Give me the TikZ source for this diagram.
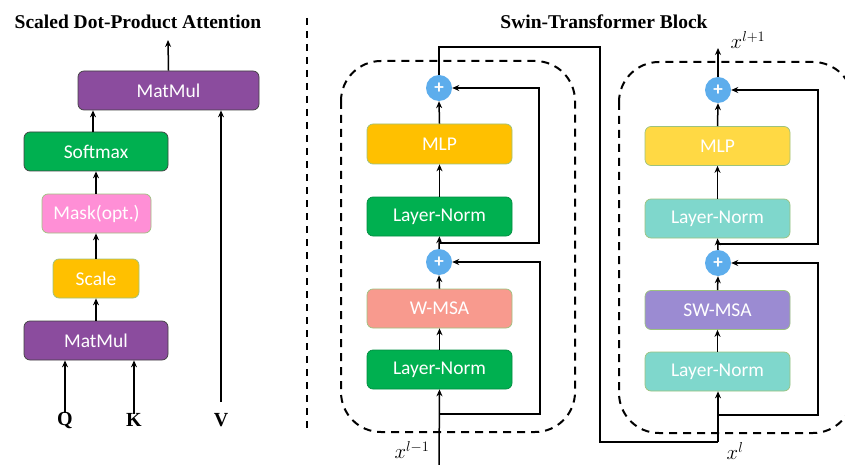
\documentclass[tikz,border=0pt]{standalone}
\usepackage{fontspec}
\setmainfont{Liberation Serif}
\newfontfamily\boxfont{Carlito}
\usetikzlibrary{arrows.meta,calc}
\definecolor{cpurple}{HTML}{8B4C9E}
\definecolor{cgreen}{HTML}{00B050}
\definecolor{cpink}{HTML}{FF8FD6}
\definecolor{cgold}{HTML}{FFC000}
\definecolor{csalmon}{HTML}{F89A8E}
\definecolor{cyellow}{HTML}{FFD944}
\definecolor{cteal}{HTML}{7FD7CC}
\definecolor{clav}{HTML}{9B8BD2}
\definecolor{cblue}{HTML}{5DADEC}
\definecolor{bdark}{HTML}{404040}
\definecolor{blight}{HTML}{9CC27E}
\begin{document}
\begin{tikzpicture}[x=1pt,y=-1pt,
  blk/.style={rectangle,rounded corners=6pt,minimum height=39pt,inner sep=0pt,
    text=white,font=\boxfont\fontsize{19.5}{22}\selectfont,line width=0.7pt},
  darkb/.style={blk,draw=bdark},
  lightb/.style={blk,draw=blight},
  plus/.style={circle,fill=cblue,minimum size=26pt,inner sep=0pt,text=white,
    font=\boxfont\bfseries\fontsize{19}{19}\selectfont},
  arr/.style={line width=1.5pt,-{Stealth[length=7pt,width=6pt]}},
  ln/.style={line width=1.5pt},
  lbl/.style={font=\bfseries\fontsize{20}{22}\selectfont,inner sep=1pt},
  mlbl/.style={font=\fontsize{20}{22}\selectfont,inner sep=1pt},
  dbox/.style={draw,line width=2pt,dash pattern=on 8pt off 6pt,rounded corners=40pt}
]
\useasboundingbox (0,0) rectangle (845,465);
\clip (0,0) rectangle (845,465);

% ---------- titles ----------
\node[font=\bfseries\fontsize{19.5}{22}\selectfont] (t1) at (138,22) {Scaled Dot-Product Attention};
\node[font=\bfseries\fontsize{19.5}{22}\selectfont] (t2) at (604,22) {Swin-Transformer Block};

% divider
\coordinate (d1) at (307,18);
\coordinate (d2) at (307,433);
\draw[line width=1.5pt,dash pattern=on 7pt off 6pt] (d1) -- (d2);

% ---------- left: scaled dot-product attention ----------
\node[darkb,fill=cpurple,minimum width=181pt] (mmtop) at (168.5,90.5) {MatMul};
\node[darkb,fill=cgreen,minimum width=144pt] (soft) at (96,151.5) {Softmax};
\node[lightb,fill=cpink,minimum width=109pt] (mask) at (96.5,213.5) {Mask(opt.)};
\node[lightb,fill=cgold,minimum width=86pt] (scale) at (96,278.5) {Scale};
\node[darkb,fill=cpurple,minimum width=144pt] (mmbot) at (96,340.5) {MatMul};

\node[lbl] (Q) at (65,420) {Q};
\node[lbl] (K) at (134,420) {K};
\node[lbl] (V) at (221,420) {V};
\coordinate (out) at (168,40);
\coordinate (vs) at (221,402);

\draw[arr] (mmtop.north) -- (out);
\draw[arr] ([xshift=-3pt]soft.north) -- ([xshift=-3pt]soft.north |- mmtop.south);
\draw[arr] (mask.north -| soft.north) -- (soft.south);
\draw[arr] (scale.north) -- (scale.north |- mask.south);
\draw[arr] (mmbot.north) -- (scale.south);
\draw[arr] ([yshift=-2pt]Q.north) -- (Q.north |- mmbot.south);
\draw[arr] ([yshift=-2pt]K.north) -- (K.north |- mmbot.south);
\draw[arr] (vs) -- (vs |- mmtop.south);

% ---------- right: swin transformer block ----------
\draw[dbox] (341,61) rectangle (575,432);
\draw[dbox] (619,62) rectangle (853,433);

% first block (W-MSA)
\node[lightb,fill=cgreen,draw=cgreen!80!black,minimum width=145pt] (ln1) at (439.5,369.5) {Layer-Norm};
\node[lightb,fill=csalmon,minimum width=145pt] (wmsa) at (439.5,308.5) {W-MSA};
\node[plus] (pa) at (439,262) {+};
\node[lightb,fill=cgreen,draw=cgreen!80!black,minimum width=145pt] (ln2) at (439.5,216.5) {Layer-Norm};
\node[lightb,fill=cgold,minimum width=145pt,minimum height=40pt] (mlp1) at (439.5,144) {MLP};
\node[plus] (pb) at (439,88) {+};

\coordinate (in1) at (439,465);
\node[mlbl] (xlm1) at (412,450) {$x^{l-1}$};
\coordinate (s1) at (439,414);
\coordinate (r1) at (540,414);
\coordinate (s2) at (439,243);
\coordinate (r2) at (539,243);

\draw[arr] (in1) -- (ln1.south);
\draw[arr] (ln1.north) -- (wmsa.south);
\draw[arr] (wmsa.north) -- (pa.south);
\draw[arr] (pa.north) -- (ln2.south);
\draw[arr] (ln2.north) -- (mlp1.south);
\draw[arr] (mlp1.north) -- (pb.south);
\draw[arr] (s1) -- (r1) -- (r1 |- pa.east) -- (pa.east);
\draw[arr] (s2) -- (r2) -- (r2 |- pb.east) -- (pb.east);

% connection to second block
\coordinate (c1) at (439,47);
\coordinate (c2) at (600,47);
\coordinate (c3) at (600,442);
\coordinate (c4) at (718,442);

% second block (SW-MSA)
\node[lightb,fill=cteal,minimum width=145pt] (ln3) at (717.5,371.5) {Layer-Norm};
\node[lightb,fill=clav,minimum width=145pt] (swmsa) at (717.5,310) {SW-MSA};
\node[plus] (pc) at (718,263) {+};
\node[lightb,fill=cteal,minimum width=145pt] (ln4) at (717.5,218.5) {Layer-Norm};
\node[lightb,fill=cyellow,minimum width=145pt] (mlp2) at (717.5,146) {MLP};
\node[plus] (pd) at (718,90) {+};

\draw[ln] (pb.north) -- (c1) -- (c2) -- (c3) -- (c4);
\draw[arr] (c4) -- (c4 |- ln3.south);
\node[mlbl] (xl) at (735,451) {$x^{l}$};

\coordinate (s3) at (718,415);
\coordinate (r3) at (818,415);
\coordinate (s4) at (718,244);
\coordinate (r4) at (818,244);
\coordinate (out2) at (718,48);
\node[mlbl] (xlp1) at (748,40) {$x^{l+1}$};

\draw[arr] (ln3.north) -- (swmsa.south);
\draw[arr] (swmsa.north) -- (pc.south);
\draw[arr] (pc.north) -- (ln4.south);
\draw[arr] (ln4.north) -- (mlp2.south);
\draw[arr] (mlp2.north) -- (pd.south);
\draw[arr] (pd.north) -- (out2);
\draw[arr] (s3) -- (r3) -- (r3 |- pc.east) -- (pc.east);
\draw[arr] (s4) -- (r4) -- (r4 |- pd.east) -- (pd.east);
\end{tikzpicture}
\end{document}
